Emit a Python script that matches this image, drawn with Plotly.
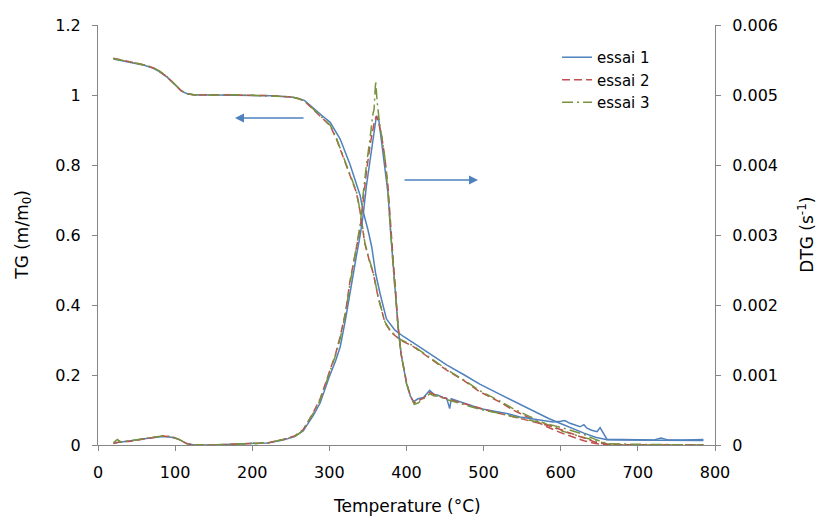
import plotly.graph_objects as go

# ---------------- data ----------------
# TG curves (left axis, m/m0)
t_tg1 = [20, 30, 45, 60, 72, 80, 89, 96, 102, 108, 115, 125, 150, 175, 200, 225, 250, 260, 268, 279,
         290, 301, 314, 327, 335, 340, 344, 350, 355, 360, 366, 374, 385, 396, 409, 430, 452, 475, 495,
         520, 538, 560, 573, 585, 599, 615, 630, 645, 660, 680, 700, 725, 750, 785]
tg1 = [1.103, 1.099, 1.093, 1.085, 1.076, 1.066, 1.052, 1.038, 1.024, 1.012, 1.004, 1.000, 1.000, 1.000,
       0.999, 0.998, 0.994, 0.990, 0.984, 0.962, 0.942, 0.922, 0.874, 0.800, 0.745, 0.712, 0.665, 0.615,
       0.565, 0.490, 0.430, 0.360, 0.328, 0.310, 0.292, 0.262, 0.229, 0.200, 0.174, 0.146, 0.126, 0.103,
       0.088, 0.075, 0.062, 0.047, 0.034, 0.022, 0.015, 0.014, 0.014, 0.014, 0.014, 0.013]

t_tg2 = [20, 30, 45, 60, 72, 80, 89, 96, 102, 108, 115, 125, 150, 175, 200, 225, 250, 260, 268, 279,
         290, 301, 309, 322, 335, 340, 346, 352, 357, 363, 372, 380, 392, 409, 430, 452, 475, 495, 520,
         538, 560, 582, 599, 616, 630, 645, 660, 700, 750, 785]
tg2 = [1.105, 1.100, 1.094, 1.086, 1.077, 1.067, 1.053, 1.038, 1.025, 1.012, 1.004, 1.000, 1.001, 1.000,
       0.999, 0.998, 0.994, 0.989, 0.982, 0.958, 0.937, 0.912, 0.875, 0.798, 0.722, 0.665, 0.575, 0.525,
       0.490, 0.424, 0.350, 0.322, 0.300, 0.281, 0.248, 0.214, 0.183, 0.152, 0.124, 0.100, 0.077, 0.052,
       0.036, 0.023, 0.012, 0.004, 0.001, 0.000, 0.000, 0.000]

t_tg3 = [20, 30, 45, 60, 72, 80, 89, 96, 102, 108, 115, 125, 150, 175, 200, 225, 250, 260, 268, 279,
         290, 301, 309, 322, 335, 340, 346, 352, 357, 363, 372, 380, 392, 409, 430, 452, 475, 495, 520,
         538, 560, 582, 599, 616, 630, 645, 660, 680, 700, 750, 785]
tg3 = [1.104, 1.100, 1.093, 1.086, 1.078, 1.068, 1.054, 1.039, 1.025, 1.013, 1.004, 1.001, 1.000, 1.001,
       0.999, 0.998, 0.995, 0.990, 0.983, 0.960, 0.938, 0.914, 0.877, 0.800, 0.725, 0.668, 0.578, 0.528,
       0.492, 0.426, 0.352, 0.324, 0.302, 0.283, 0.250, 0.216, 0.185, 0.155, 0.127, 0.104, 0.081, 0.058,
       0.042, 0.030, 0.022, 0.012, 0.003, 0.000, 0.000, 0.000, 0.000]

# DTG curves (right axis, s^-1)
t_dtg1 = [20, 30, 40, 50, 60, 70, 84, 95, 105, 115, 125, 150, 175, 200, 220, 240, 255, 266, 279, 288,
          300, 308, 314, 321, 327, 335, 340, 344, 348, 353, 358, 361, 364, 368, 372, 376, 379, 383, 386,
          389, 393, 396, 400, 405, 409, 415, 422, 430, 436, 441, 447, 452, 456, 458, 465, 474, 485, 495,
          505, 517, 530, 547, 560, 573, 590, 600, 605, 612, 620, 625, 630, 634, 640, 647, 651, 655, 660,
          680, 700, 720, 730, 740, 760, 785]
dtg1 = [0.00003, 0.00004, 0.00006, 0.00007, 0.00009, 0.00010, 0.00012, 0.00011, 0.00008, 0.00002,
        0.00000, 0.00000, 0.00001, 0.00002, 0.00003, 0.00007, 0.00012, 0.00020, 0.00042, 0.00060,
        0.00098, 0.00120, 0.00140, 0.00180, 0.00220, 0.00270, 0.00300, 0.00330, 0.00370, 0.00410,
        0.00450, 0.00470, 0.00465, 0.00430, 0.00400, 0.00360, 0.00310, 0.00250, 0.00210, 0.00170,
        0.00130, 0.00110, 0.00088, 0.00070, 0.00062, 0.00066, 0.00068, 0.00078, 0.00072, 0.00071,
        0.00068, 0.00067, 0.00052, 0.00066, 0.00063, 0.00060, 0.00056, 0.00052, 0.00050, 0.00048,
        0.00045, 0.00040, 0.00038, 0.00036, 0.00033, 0.00034, 0.00035, 0.00031, 0.00028, 0.00026,
        0.00029, 0.00024, 0.00021, 0.00019, 0.00025, 0.00017, 0.00008, 0.00008, 0.00007, 0.00007,
        0.00010, 0.00007, 0.00007, 0.00008]

t_dtg2 = [20, 30, 40, 50, 60, 70, 84, 95, 105, 115, 125, 150, 175, 200, 220, 240, 255, 266, 279, 288,
          300, 308, 314, 321, 327, 335, 340, 344, 348, 353, 358, 361, 364, 368, 372, 376, 379, 383, 386,
          389, 393, 396, 400, 405, 410, 415, 422, 430, 436, 441, 452, 465, 474, 495, 517, 547, 573, 590,
          610, 630, 645, 660, 700, 750, 785]
dtg2 = [0.00002, 0.00005, 0.00005, 0.00007, 0.00009, 0.00011, 0.00013, 0.00012, 0.00008, 0.00002,
        0.00000, 0.00000, 0.00001, 0.00002, 0.00003, 0.00008, 0.00013, 0.00022, 0.00046, 0.00066,
        0.00105, 0.00130, 0.00155, 0.00190, 0.00236, 0.00283, 0.00310, 0.00350, 0.00390, 0.00430,
        0.00460, 0.00470, 0.00460, 0.00440, 0.00410, 0.00370, 0.00320, 0.00260, 0.00220, 0.00170,
        0.00130, 0.00110, 0.00090, 0.00070, 0.00060, 0.00063, 0.00067, 0.00075, 0.00072, 0.00070,
        0.00066, 0.00062, 0.00059, 0.00052, 0.00046, 0.00038, 0.00031, 0.00026, 0.00018, 0.00010,
        0.00004, 0.00001, 0.00000, 0.00000, 0.00000]

t_dtg3 = [20, 25, 30, 40, 50, 60, 70, 84, 95, 105, 115, 125, 150, 175, 198, 200, 203, 220, 240, 255,
          266, 279, 288, 300, 308, 314, 321, 327, 335, 340, 344, 348, 353, 356, 358, 360, 362, 365, 368,
          372, 376, 379, 383, 386, 389, 393, 396, 400, 405, 410, 415, 422, 430, 436, 441, 452, 465, 474,
          495, 517, 547, 573, 590, 610, 630, 645, 660, 700, 750, 785]
dtg3 = [0.00003, 0.00008, 0.00004, 0.00006, 0.00008, 0.00009, 0.00011, 0.00013, 0.00012, 0.00008,
        0.00002, 0.00000, 0.00000, 0.00001, 0.00002, 0.00006, 0.00002, 0.00003, 0.00008, 0.00012,
        0.00021, 0.00045, 0.00064, 0.00102, 0.00128, 0.00152, 0.00188, 0.00232, 0.00280, 0.00315,
        0.00360, 0.00400, 0.00440, 0.00470, 0.00480, 0.00520, 0.00490, 0.00460, 0.00440, 0.00410,
        0.00360, 0.00310, 0.00250, 0.00210, 0.00170, 0.00130, 0.00110, 0.00088, 0.00070, 0.00058,
        0.00060, 0.00066, 0.00073, 0.00070, 0.00070, 0.00065, 0.00061, 0.00058, 0.00051, 0.00046,
        0.00039, 0.00033, 0.00028, 0.00022, 0.00015, 0.00008, 0.00002, 0.00001, 0.00000, 0.00000]

series_names = ["essai 1", "essai 2", "essai 3"]
x_ticks = [0, 100, 200, 300, 400, 500, 600, 700, 800]

# ---------------- figure ----------------
colors = ["#4F81BD", "#C0504D", "#77933C"]
dashes = ["solid", "8px,4px", "11px,4px,2px,4px"]
FONT = "DejaVu Sans"

fig = go.Figure()
tg_sets = [(t_tg1, tg1), (t_tg2, tg2), (t_tg3, tg3)]
dtg_sets = [(t_dtg1, dtg1), (t_dtg2, dtg2), (t_dtg3, dtg3)]

for i, name in enumerate(series_names):
    fig.add_trace(go.Scatter(x=tg_sets[i][0], y=tg_sets[i][1], mode="lines", name=name,
                             line=dict(color=colors[i], width=1.5, dash=dashes[i]),
                             showlegend=True))
for i, name in enumerate(series_names):
    fig.add_trace(go.Scatter(x=dtg_sets[i][0], y=dtg_sets[i][1], mode="lines", name=name,
                             line=dict(color=colors[i], width=1.5, dash=dashes[i]),
                             yaxis="y2", showlegend=False))

axis_style = dict(showline=True, linecolor="#868686", linewidth=1, ticks="outside", ticklen=5,
                  tickcolor="#868686", showgrid=False, zeroline=False,
                  tickfont=dict(family=FONT, size=16, color="#000000"))

fig.update_layout(
    width=818, height=521,
    margin=dict(l=98, r=103, t=25, b=76),
    paper_bgcolor="white", plot_bgcolor="white",
    font=dict(family=FONT, size=16, color="#000000"),
    xaxis=dict(range=[0, 800], tickvals=x_ticks, ticklabelstandoff=8, **axis_style),
    yaxis=dict(range=[0, 1.2], dtick=0.2, tick0=0, ticklabelstandoff=8, **axis_style),
    yaxis2=dict(range=[0, 0.006], dtick=0.001, tick0=0, overlaying="y", side="right",
                ticklabelstandoff=8, **axis_style),
    legend=dict(x=0.744, y=0.962, xanchor="left", yanchor="top", bgcolor="rgba(0,0,0,0)",
                font=dict(family=FONT, size=15, color="#000000"), tracegroupgap=0),
    showlegend=True,
)

# Axis titles
fig.add_annotation(text="Temperature (°C)", xref="paper", yref="paper", x=0.5, y=-0.145,
                   xanchor="center", yanchor="middle", showarrow=False,
                   font=dict(family=FONT, size=17, color="#000000"))
fig.add_annotation(text="TG (m/m<sub>0</sub>)", xref="paper", yref="paper", x=-0.122, y=0.5,
                   xanchor="center", yanchor="middle", textangle=-90, showarrow=False,
                   font=dict(family=FONT, size=17, color="#000000"))
fig.add_annotation(text="DTG (s<sup>-1</sup>)", xref="paper", yref="paper", x=1.147, y=0.5,
                   xanchor="center", yanchor="middle", textangle=-90, showarrow=False,
                   font=dict(family=FONT, size=17, color="#000000"))

# Arrows pointing to the axes
fig.add_annotation(x=177.6, y=0.934, ax=268.4, ay=0.934, xref="x", yref="y", axref="x", ayref="y",
                   text="", showarrow=True, arrowhead=2, arrowsize=1.2, arrowwidth=1.5,
                   arrowcolor="#4F81BD")
fig.add_annotation(x=492.7, y=0.757, ax=395.5, ay=0.757, xref="x", yref="y", axref="x", ayref="y",
                   text="", showarrow=True, arrowhead=2, arrowsize=1.2, arrowwidth=1.5,
                   arrowcolor="#4F81BD")

fig.write_html("out.html", config={"displayModeBar": False},
               post_script="document.body.style.margin='0';document.body.style.padding='0';")
